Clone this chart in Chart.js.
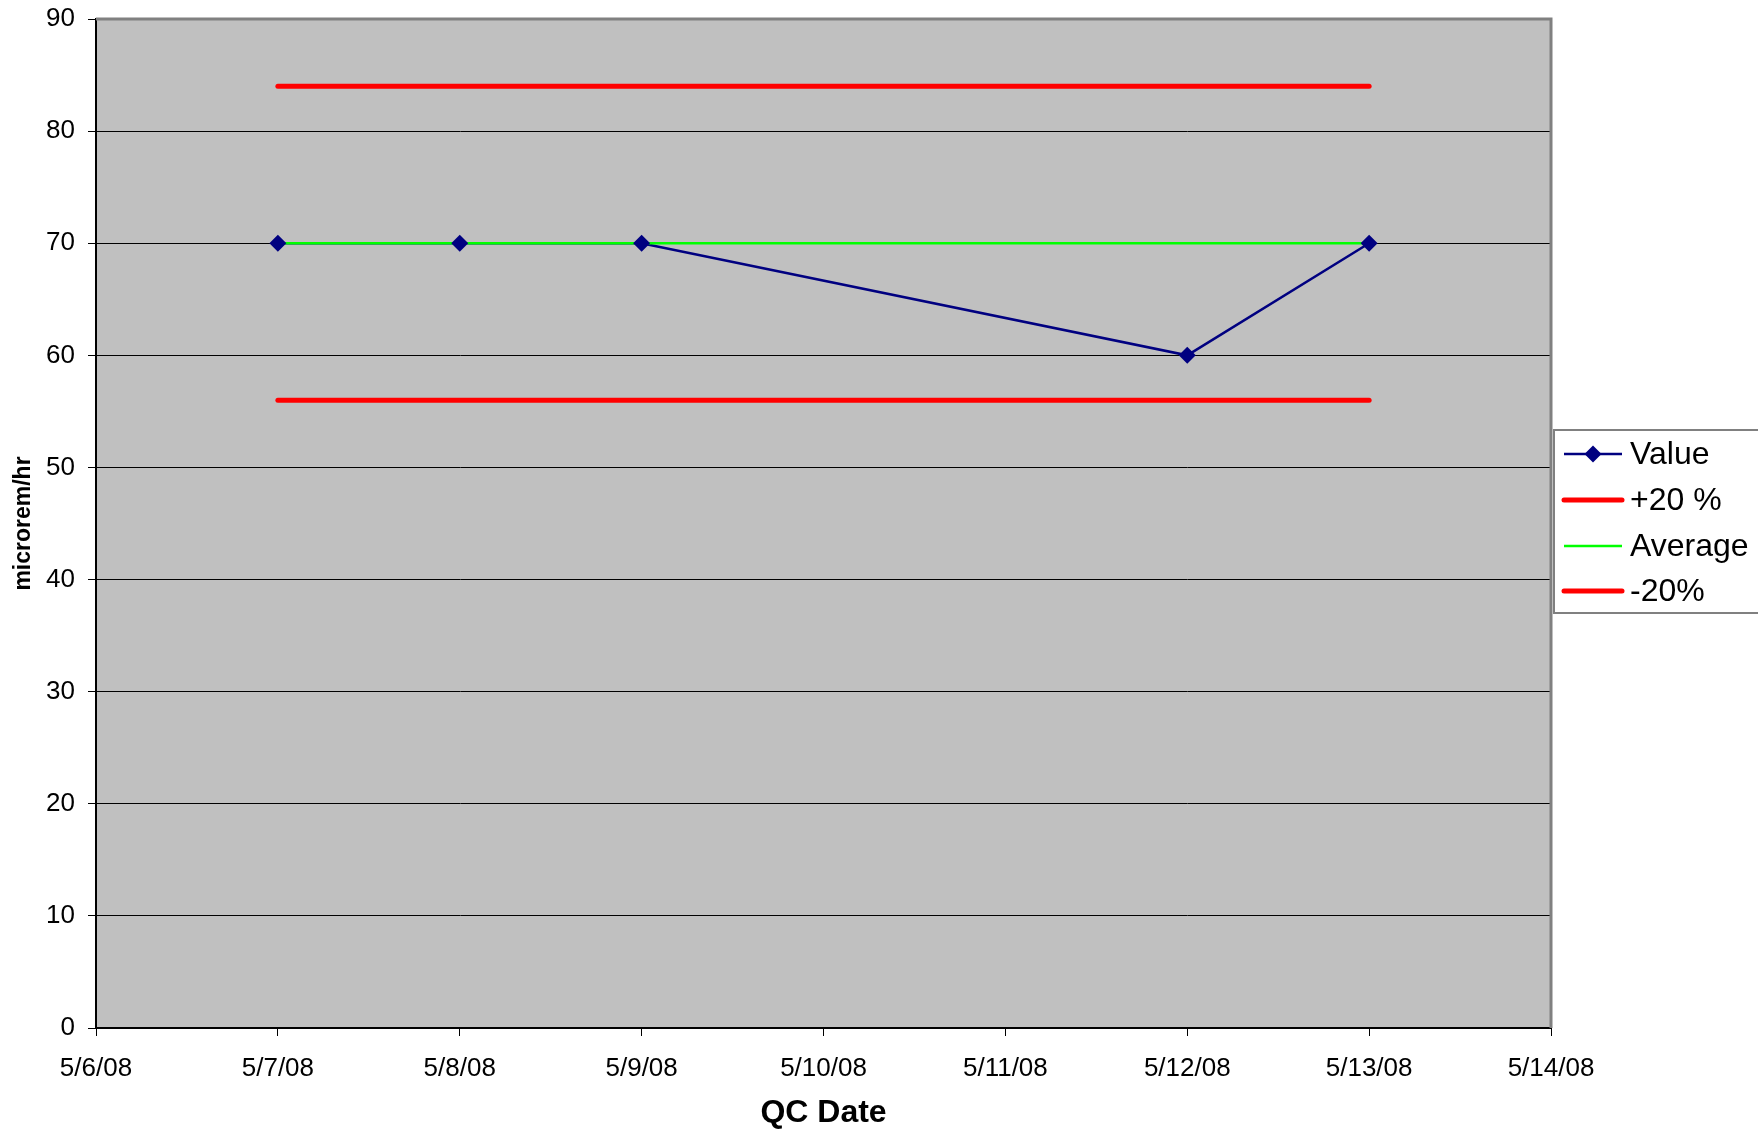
<!DOCTYPE html>
<html>
<head>
<meta charset="utf-8">
<script src="https://cdn.jsdelivr.net/npm/chart.js@4.4.1/dist/chart.umd.min.js"></script>
<style>
  html, body { margin: 0; padding: 0; background: #ffffff; }
  #wrap { width: 1758px; height: 1129px; position: relative; }
</style>
</head>
<body>
<div id="wrap"><canvas id="c" width="1758" height="1129"></canvas></div>
<script>
// ---- data ----
const xTickLabels = ['5/6/08', '5/7/08', '5/8/08', '5/9/08', '5/10/08', '5/11/08', '5/12/08', '5/13/08', '5/14/08'];
const valueDates = ['5/7/08', '5/8/08', '5/9/08', '5/12/08', '5/13/08'];
const values = [70, 70, 70, 60, 70];
const limitDates = ['5/7/08', '5/13/08'];
const plus20 = [84, 84];
const average = [70, 70];
const minus20 = [56, 56];
const seriesNames = ['Value', '+20 %', 'Average', '-20%'];
const yTicks = [0, 10, 20, 30, 40, 50, 60, 70, 80, 90];

const toPoints = (dates, vals) => dates.map((d, i) => ({ x: xTickLabels.indexOf(d), y: vals[i] }));

const FONT = "'Liberation Sans', Arial, sans-serif";
const NAVY = '#000080';
const RED = '#FF0000';
const GREEN = '#00FF00';

const plotBg = {
  id: 'plotBg',
  beforeDraw(chart) {
    const a = chart.chartArea, ctx = chart.ctx;
    ctx.save();
    ctx.fillStyle = '#C0C0C0';
    ctx.fillRect(a.left, a.top, a.right - a.left, a.bottom - a.top);
    ctx.restore();
  },
  beforeDatasetsDraw(chart) {
    const a = chart.chartArea, ctx = chart.ctx;
    ctx.save();
    ctx.strokeStyle = '#808080';
    ctx.lineWidth = 3;
    ctx.beginPath();
    ctx.moveTo(a.left, a.top);
    ctx.lineTo(a.right, a.top);
    ctx.lineTo(a.right, a.bottom);
    ctx.stroke();
    ctx.restore();
  }
};

const legendBox = {
  id: 'legendBox',
  afterDraw(chart) {
    const ctx = chart.ctx;
    const bx = 1554, by = 430, bw = 220, bh = 183;
    ctx.save();
    ctx.fillStyle = '#ffffff';
    ctx.fillRect(bx, by, bw, bh);
    ctx.strokeStyle = '#808080';
    ctx.lineWidth = 2;
    ctx.strokeRect(bx, by, bw, bh);
    const rows = [454, 500, 546, 591];
    const styles = [
      { color: NAVY, width: 2.5, marker: true },
      { color: RED, width: 5 },
      { color: GREEN, width: 2.5 },
      { color: RED, width: 5 }
    ];
    ctx.font = '32px ' + FONT;
    ctx.textBaseline = 'middle';
    ctx.textAlign = 'left';
    rows.forEach((y, i) => {
      const s = styles[i];
      ctx.strokeStyle = s.color;
      ctx.lineWidth = s.width;
      ctx.lineCap = s.width > 3 ? 'round' : 'butt';
      ctx.beginPath();
      ctx.moveTo(1564, y);
      ctx.lineTo(1622, y);
      ctx.stroke();
      if (s.marker) {
        ctx.fillStyle = NAVY;
        ctx.beginPath();
        ctx.moveTo(1593, y - 8.5);
        ctx.lineTo(1601.5, y);
        ctx.lineTo(1593, y + 8.5);
        ctx.lineTo(1584.5, y);
        ctx.closePath();
        ctx.fill();
      }
      ctx.fillStyle = '#000';
      ctx.fillText(seriesNames[i], 1630, y + 1);
    });
    ctx.restore();
  }
};

new Chart(document.getElementById('c'), {
  type: 'scatter',
  data: {
    datasets: [
      { label: 'Value markers', data: toPoints(valueDates, values), showLine: false,
        pointStyle: 'rectRot', pointRadius: 8.5, pointBackgroundColor: NAVY, pointBorderColor: NAVY,
        pointBorderWidth: 0, order: 0 },
      { label: '+20 %', data: toPoints(limitDates, plus20), showLine: true, borderColor: RED,
        borderWidth: 5, borderCapStyle: 'round', pointRadius: 0, order: 1 },
      { label: '-20%', data: toPoints(limitDates, minus20), showLine: true, borderColor: RED,
        borderWidth: 5, borderCapStyle: 'round', pointRadius: 0, order: 1 },
      { label: 'Average', data: toPoints(limitDates, average), showLine: true, borderColor: GREEN,
        borderWidth: 2.5, pointRadius: 0, order: 2 },
      { label: 'Value', data: toPoints(valueDates, values), showLine: true, borderColor: NAVY,
        borderWidth: 2.5, pointRadius: 0, order: 3 }
    ]
  },
  options: {
    responsive: false,
    animation: false,
    layout: { padding: { top: 19, right: 207, left: 0, bottom: 0 } },
    plugins: { legend: { display: false }, tooltip: { enabled: false }, title: { display: false } },
    scales: {
      x: {
        type: 'linear', min: 0, max: 8,
        afterFit(s) { s.height = 101; s.paddingLeft = 0; s.paddingRight = 0; },
        afterBuildTicks(s) { s.ticks = xTickLabels.map((_, i) => ({ value: i })); },
        ticks: { callback: (v) => xTickLabels[v], color: '#000', font: { family: FONT, size: 26 },
                 padding: 17, maxRotation: 0, autoSkip: false },
        grid: { drawOnChartArea: false, tickLength: 8, color: '#000', lineWidth: 1 },
        border: { color: '#000', width: 2 },
        title: { display: true, text: 'QC Date', color: '#000',
                 font: { family: FONT, size: 32, weight: 'bold', lineHeight: 1 },
                 padding: { top: 0, bottom: 0 } }
      },
      y: {
        min: 0, max: 90,
        afterFit(s) { s.width = 96; s.paddingTop = 0; s.paddingBottom = 0; },
        afterBuildTicks(s) { s.ticks = yTicks.map(v => ({ value: v })); },
        ticks: { color: '#000', font: { family: FONT, size: 26 }, padding: 13 },
        grid: { color: '#000', lineWidth: 1, tickLength: 8 },
        border: { color: '#000', width: 2 },
        title: { display: true, text: 'microrem/hr', color: '#000', font: { family: FONT, size: 23, weight: 'bold' },
                 padding: { top: 10, bottom: 0 } }
      }
    }
  },
  plugins: [plotBg, legendBox]
});
</script>
</body>
</html>
